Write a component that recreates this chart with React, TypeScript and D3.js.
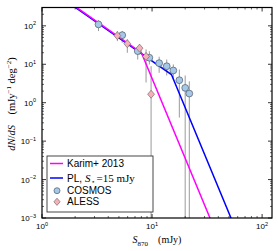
import React from 'react';
import * as d3 from 'd3';

// number counts (S in mJy, dN/dS in mJy^-1 deg^-2)
const cosmosS = [3.26, 5.36, 7.41, 9.45, 11.6, 13.6, 15.6, 17.7, 20.0, 21.8];
const cosmosN = [109, 57.2, 22, 14.8, 10.7, 8.9, 6.9, 3.85, 2.43, 1.73];
const cosmosHi = [141, 73, 27, 21.8, 15.7, 13.3, 9.9, 7.3, 5.1, 3.6];
const cosmosLo = [73, 36.4, 13.3, 9.9, 6.0, 5.1, 4.0, 0.41, 0, 0];

const alessS = [4.84, 5.96, 7.7, 8.82, 9.8];
const alessN = [55.5, 34.3, 26.3, 16.0, 1.66];
const alessHi = [73, 44.5, 32.9, 24.3, 8.9];
const alessLo = [40, 19.9, 18, 3.35, 0];

// broken power-law vertices (start, break, end)
const karimS = [1, 8, 40];
const karimN = [1280, 20, 0.0003];
const plS = [1, 15, 60];
const plN = [1215, 5.4, 0.00038];

const xMajor = [1, 10, 100];
const xMajorLabels = ['0', '1', '2'];
const yMajor = [1e-3, 1e-2, 1e-1, 1, 10, 100];
const yMajorLabels = ['\u22123', '\u22122', '\u22121', '0', '1', '2'];

const W = 278;
const H = 251;
const margin = { top: 7.5, right: 6, bottom: 33, left: 42 };
const sans = '"Liberation Sans", Arial, sans-serif';
const serif = '"Liberation Serif", "Times New Roman", serif';

const App = () => {
  const x = d3.scaleLog().domain([1, 123]).range([margin.left, W - margin.right]);
  const y = d3.scaleLog().domain([1e-3, 300]).range([H - margin.bottom, margin.top]);
  const [x0, x1] = x.range();
  const [y0, y1] = y.range(); // y0 bottom, y1 top

  const line = d3.line<[number, number]>()
    .x(d => x(d[0]))
    .y(d => y(d[1]));

  const xMinor = x.ticks().filter(t => !xMajor.includes(t));
  const yMinor = y.ticks().filter(t => !yMajor.some(m => Math.abs(m - t) / m < 1e-6));

  const yOf = (v: number) => (v <= 0 ? y0 + 5 : y(v));

  const circle = { fill: '#a6c8e8', stroke: '#4d5a68' };
  const diamond = { fill: '#f5b0ba', stroke: '#7a6a6c' };

  return (
    <svg width={W} height={H} style={{ position: 'fixed', left: 0, top: 0, background: '#fff' }}>
      <defs>
        <clipPath id="plot">
          <rect x={x0} y={y1} width={x1 - x0} height={y0 - y1} />
        </clipPath>
      </defs>

      <g clipPath="url(#plot)">
        {/* error bars */}
        {cosmosS.map((s, i) => (
          <line key={'ce' + i} x1={x(s)} x2={x(s)} y1={y(cosmosHi[i])} y2={yOf(cosmosLo[i])}
            stroke="#9a9a9a" strokeWidth={1} />
        ))}
        {alessS.map((s, i) => (
          <line key={'ae' + i} x1={x(s)} x2={x(s)} y1={y(alessHi[i])} y2={yOf(alessLo[i])}
            stroke="#9a9a9a" strokeWidth={1} />
        ))}

        {/* models */}
        <path d={line(plS.map((s, i) => [s, plN[i]]) as [number, number][]) || ''}
          fill="none" stroke="#0000ff" strokeWidth={1.5} />
        <path d={line(karimS.map((s, i) => [s, karimN[i]]) as [number, number][]) || ''}
          fill="none" stroke="#ff00ff" strokeWidth={1.5} />

        {/* data points */}
        {cosmosS.map((s, i) => (
          <circle key={'c' + i} cx={x(s)} cy={y(cosmosN[i])} r={3.4}
            fill={circle.fill} stroke={circle.stroke} strokeWidth={0.7} />
        ))}
        {alessS.map((s, i) => (
          <path key={'a' + i} transform={`translate(${x(s)},${y(alessN[i])})`}
            d="M0,-4L3.4,0L0,4L-3.4,0Z"
            fill={diamond.fill} stroke={diamond.stroke} strokeWidth={0.7} />
        ))}
      </g>

      {/* ticks, inward on all four sides */}
      {xMajor.map(t => (
        <g key={'xM' + t}>
          <line x1={x(t)} x2={x(t)} y1={y0} y2={y0 - 4} stroke="#000" strokeWidth={0.8} />
          <line x1={x(t)} x2={x(t)} y1={y1} y2={y1 + 4} stroke="#000" strokeWidth={0.8} />
        </g>
      ))}
      {xMinor.map(t => (
        <g key={'xm' + t}>
          <line x1={x(t)} x2={x(t)} y1={y0} y2={y0 - 2} stroke="#000" strokeWidth={0.6} />
          <line x1={x(t)} x2={x(t)} y1={y1} y2={y1 + 2} stroke="#000" strokeWidth={0.6} />
        </g>
      ))}
      {yMajor.map(t => (
        <g key={'yM' + t}>
          <line x1={x0} x2={x0 + 4} y1={y(t)} y2={y(t)} stroke="#000" strokeWidth={0.8} />
          <line x1={x1} x2={x1 - 4} y1={y(t)} y2={y(t)} stroke="#000" strokeWidth={0.8} />
        </g>
      ))}
      {yMinor.map(t => (
        <g key={'ym' + t}>
          <line x1={x0} x2={x0 + 2} y1={y(t)} y2={y(t)} stroke="#000" strokeWidth={0.6} />
          <line x1={x1} x2={x1 - 2} y1={y(t)} y2={y(t)} stroke="#000" strokeWidth={0.6} />
        </g>
      ))}

      {/* frame */}
      <rect x={x0} y={y1} width={x1 - x0} height={y0 - y1} fill="none" stroke="#000" strokeWidth={1.2} />

      {/* tick labels */}
      {xMajor.map((t, i) => (
        <text key={'xl' + t} x={x(t)} y={y0 + 11} textAnchor="middle" fontFamily={sans} fontSize={8}>
          10<tspan dy={-3.5} fontSize={5.5}>{xMajorLabels[i]}</tspan>
        </text>
      ))}
      {yMajor.map((t, i) => (
        <text key={'yl' + t} x={x0 - 6} y={y(t) + 3} textAnchor="end" fontFamily={sans} fontSize={8}>
          10<tspan dy={-3.5} fontSize={5.5}>{yMajorLabels[i]}</tspan>
        </text>
      ))}

      {/* axis labels */}
      <text x={(x0 + x1) / 2} y={243} textAnchor="middle" fontFamily={serif} fontSize={10}>
        <tspan fontStyle="italic">S</tspan>
        <tspan dy={2.5} fontSize={7}>870</tspan>
        <tspan dy={-2.5}>{'\u2002\u2002(mJy)'}</tspan>
      </text>
      <text transform={`translate(15,104) rotate(-90)`} textAnchor="middle" fontFamily={serif} fontSize={10.5}>
        <tspan fontStyle="italic">dN</tspan>/<tspan fontStyle="italic">dS</tspan>
        <tspan>{'\u2002\u2002(mJy'}</tspan>
        <tspan dy={-4} fontSize={7}>{'\u22121'}</tspan>
        <tspan dy={4}>{' deg'}</tspan>
        <tspan dy={-4} fontSize={7}>{'\u22122'}</tspan>
        <tspan dy={4}>)</tspan>
      </text>

      {/* legend */}
      <rect x={47} y={156} width={106} height={56} fill="#fff" stroke="#333" strokeWidth={0.9} />
      <line x1={50} x2={63} y1={163.5} y2={163.5} stroke="#ff00ff" strokeWidth={1.5} />
      <text x={67} y={167} fontFamily={sans} fontSize={10}>Karim+ 2013</text>
      <line x1={50} x2={63} y1={178} y2={178} stroke="#0000ff" strokeWidth={1.5} />
      <text x={67} y={181.5} fontFamily={sans} fontSize={10}>
        PL,
        <tspan fontFamily={serif} fontStyle="italic" fontSize={11} dx={3}>S</tspan>
        <tspan fontFamily={serif} dy={2.5} fontSize={7}>{'\u22C6'}</tspan>
        <tspan fontFamily={serif} fontSize={11} dy={-2.5} dx={2}>=15 mJy</tspan>
      </text>
      <circle cx={57} cy={190.7} r={3} fill={circle.fill} stroke={circle.stroke} strokeWidth={0.7} />
      <text x={67} y={194.2} fontFamily={sans} fontSize={10}>COSMOS</text>
      <path transform="translate(57,201.8)" d="M0,-3.6L3.1,0L0,3.6L-3.1,0Z"
        fill={diamond.fill} stroke={diamond.stroke} strokeWidth={0.7} />
      <text x={67} y={205.3} fontFamily={sans} fontSize={10}>ALESS</text>
    </svg>
  );
};

export default App;
